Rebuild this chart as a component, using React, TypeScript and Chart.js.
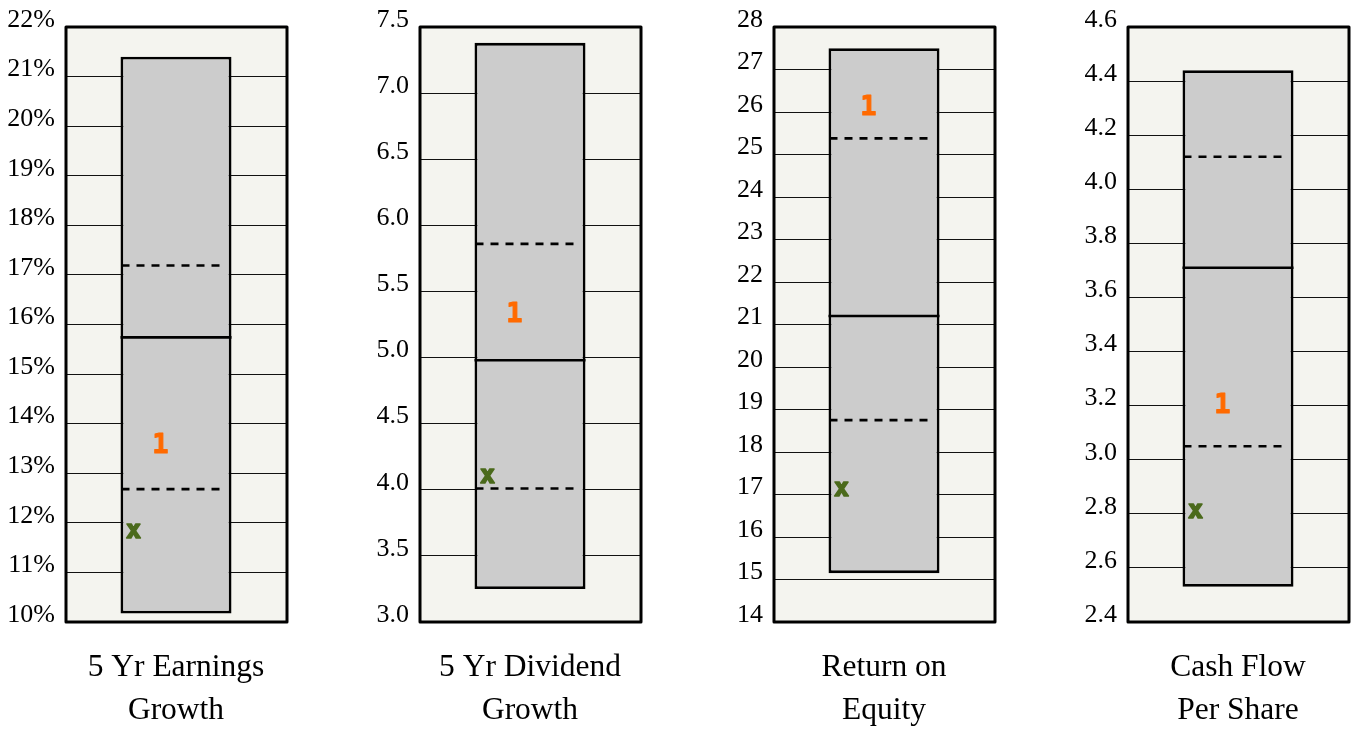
import React, { useEffect, useRef } from "react";
import { Chart, registerables } from "chart.js";

Chart.register(...registerables);

// ---- data ----
const categories: string[][] = [
  ["5 Yr Earnings", "Growth"],
  ["5 Yr Dividend", "Growth"],
  ["Return on", "Equity"],
  ["Cash Flow", "Per Share"],
];
const rangeLow = [10.17, 3.25, 15.15, 2.53];
const rangeHigh = [21.4, 7.38, 27.5, 4.44];
const medians = [15.74, 4.98, 21.2, 3.71];
const upperDashed = [17.19, 5.86, 25.38, 4.12];
const lowerDashed = [12.68, 4.01, 18.75, 3.05];
const markerOne = [13.6, 5.34, 26.16, 3.21];
const markerX = [11.83, 4.1, 17.13, 2.81];
const axisMin = [10, 3.0, 14, 2.4];
const axisMax = [22, 7.5, 28, 4.6];
const axisStep = [1, 0.5, 1, 0.2];
const tickSuffix = ["%", "", "", ""];
const tickDecimals = [0, 1, 0, 1];

// ---- layout ----
const PANEL_LEFT = [0, 354, 708, 1062];
const PANEL_WIDTH = [354, 354, 354, 290];
const HEIGHT = 729;
const PLOT_LEFT = 65;
const PLOT_RIGHT = 287;
const PLOT_TOP = 27;
const PLOT_BOTTOM = 622;

const SERIF = "'Liberation Serif', 'Times New Roman', Times, serif";
const MONO = "'DejaVu Sans Mono', 'Liberation Mono', monospace";

function Panel({ i }: { i: number }) {
  const ref = useRef<HTMLCanvasElement | null>(null);

  useEffect(() => {
    const canvas = ref.current;
    if (!canvas) return;

    const overlay = {
      id: "overlay" + i,
      beforeDraw(chart: any) {
        const { ctx, chartArea: a } = chart;
        ctx.save();
        ctx.fillStyle = "#f4f4ef";
        ctx.fillRect(a.left, a.top, a.right - a.left, a.bottom - a.top);
        ctx.restore();
      },
      afterDatasetsDraw(chart: any) {
        const ctx = chart.ctx;
        const ys = chart.scales.y;
        const bar = chart.getDatasetMeta(0).data[0];
        const { x, width } = bar.getProps(["x", "width"], true);
        const l = x - width / 2;
        const r = x + width / 2;
        ctx.save();
        ctx.strokeStyle = "#000";
        ctx.lineWidth = 2.6;
        const ym = ys.getPixelForValue(medians[i]);
        ctx.beginPath();
        ctx.moveTo(l, ym);
        ctx.lineTo(r, ym);
        ctx.stroke();
        ctx.setLineDash([8, 7]);
        [upperDashed[i], lowerDashed[i]].forEach((v) => {
          const yy = ys.getPixelForValue(v);
          ctx.beginPath();
          ctx.moveTo(l + 1, yy);
          ctx.lineTo(r - 5, yy);
          ctx.stroke();
        });
        ctx.setLineDash([]);

        // markers
        ctx.textAlign = "center";
        ctx.textBaseline = "alphabetic";
        ctx.lineJoin = "round";
        const s1 = 27;
        ctx.font = `bold ${s1}px ${MONO}`;
        ctx.fillStyle = "#ff6a00";
        ctx.strokeStyle = "#ff6a00";
        ctx.lineWidth = 1;
        const y1 = ys.getPixelForValue(markerOne[i]) + 0.364 * s1;
        ctx.fillText("1", l + 40, y1);
        ctx.strokeText("1", l + 40, y1);
        const s2 = 25;
        ctx.font = `bold ${s2}px ${MONO}`;
        ctx.fillStyle = "#4b6a1c";
        ctx.strokeStyle = "#4b6a1c";
        ctx.lineWidth = 1.6;
        const y2 = ys.getPixelForValue(markerX[i]) + 0.27 * s2;
        ctx.fillText("x", l + 13, y2);
        ctx.strokeText("x", l + 13, y2);

        // plot border
        const a = chart.chartArea;
        ctx.lineWidth = 3;
        ctx.strokeStyle = "#000";
        ctx.strokeRect(a.left + 1, a.top, a.right - a.left - 1, a.bottom - a.top);
        ctx.restore();
      },
    };

    const chart = new Chart(canvas, {
      type: "bar",
      data: {
        labels: [categories[i]],
        datasets: [
          {
            data: [[rangeLow[i], rangeHigh[i]]] as any,
            backgroundColor: "#cccccc",
            borderColor: "#000",
            borderWidth: 2.8,
            borderSkipped: false,
            barPercentage: 0.5,
            categoryPercentage: 1,
          },
        ],
      },
      options: {
        animation: false,
        responsive: false,
        maintainAspectRatio: false,
        layout: {
          padding: {
            top: PLOT_TOP,
            right: PANEL_WIDTH[i] - PLOT_RIGHT,
            left: 0,
            bottom: 0,
          },
        },
        plugins: {
          legend: { display: false },
          tooltip: { enabled: false },
        },
        scales: {
          x: {
            grid: { display: false },
            border: { display: false },
            ticks: {
              padding: 16,
              maxRotation: 0,
              minRotation: 0,
              autoSkip: false,
              color: "#000",
              font: { family: SERIF, size: 31.5, lineHeight: 1.37 },
            },
            afterFit: (s: any) => {
              s.height = HEIGHT - PLOT_BOTTOM;
            },
          },
          y: {
            min: axisMin[i],
            max: axisMax[i],
            grid: { color: "#111", lineWidth: 1, drawTicks: false },
            border: { display: false },
            ticks: {
              stepSize: axisStep[i],
              padding: 10,
              labelOffset: -7,
              color: "#000",
              font: { family: SERIF, size: 26 },
              callback: (v: any) => Number(v).toFixed(tickDecimals[i]) + tickSuffix[i],
            },
            afterFit: (s: any) => {
              s.width = PLOT_LEFT;
            },
          },
        },
      } as any,
      plugins: [overlay],
    });

    return () => chart.destroy();
  }, [i]);

  return (
    <canvas
      ref={ref}
      width={PANEL_WIDTH[i]}
      height={HEIGHT}
      style={{ position: "absolute", left: PANEL_LEFT[i], top: 0 }}
    />
  );
}

export default function App() {
  return (
    <div
      style={{
        position: "fixed",
        left: 0,
        top: 0,
        width: 1352,
        height: HEIGHT,
        background: "#fff",
        overflow: "hidden",
      }}
    >
      {[0, 1, 2, 3].map((i) => (
        <Panel key={i} i={i} />
      ))}
    </div>
  );
}
